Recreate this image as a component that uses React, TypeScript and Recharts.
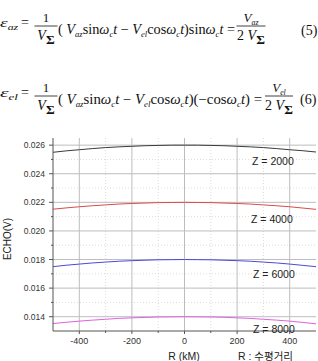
import React from "react";
import { LineChart, Line, XAxis, YAxis, ReferenceLine } from "recharts";

const SERIF = "'Liberation Serif', 'DejaVu Serif', serif";
const SANS = "'Liberation Sans', Arial, sans-serif";
const AXIS = "#555";
const MAJOR_GRID = "#bdbdbd";
const MINOR_GRID = "#dcdcdc";

// horizontal distance R (km)
const R_KM = [-500, -450, -400, -350, -300, -250, -200, -150, -100, -50, 0, 50, 100, 150, 200, 250, 300, 350, 400, 450, 500];

// echo voltage for each height Z
const Z2000 = [0.0255, 0.0256, 0.02568, 0.02576, 0.02583, 0.02588, 0.02592, 0.02596, 0.02598, 0.026, 0.026, 0.026, 0.02598, 0.02596, 0.02592, 0.02588, 0.02583, 0.02576, 0.02568, 0.02561, 0.02552];
const Z4000 = [0.02152, 0.02161, 0.02169, 0.02176, 0.02182, 0.02188, 0.02192, 0.02195, 0.02198, 0.02199, 0.022, 0.02199, 0.02198, 0.02195, 0.02192, 0.02188, 0.02182, 0.02176, 0.02169, 0.0216, 0.02151];
const Z6000 = [0.0175, 0.0176, 0.01768, 0.01776, 0.01782, 0.01788, 0.01792, 0.01795, 0.01798, 0.01799, 0.018, 0.01799, 0.01798, 0.01795, 0.01792, 0.01788, 0.01782, 0.01776, 0.01768, 0.01759, 0.0175];
const Z8000 = [0.01352, 0.01361, 0.01369, 0.01376, 0.01382, 0.01388, 0.01392, 0.01395, 0.01398, 0.01399, 0.014, 0.01399, 0.01398, 0.01396, 0.01392, 0.01388, 0.01382, 0.01376, 0.01369, 0.0136, 0.0135];

const MAJOR_X = [-400, -200, 0, 200, 400];
const MINOR_X = [-300, -100, 100, 300];
const X_TICKS = [-400, -300, -200, -100, 0, 100, 200, 300, 400];
const MAJOR_Y = [0.014, 0.016, 0.018, 0.02, 0.022, 0.024, 0.026];
const MINOR_Y = [0.015, 0.017, 0.019, 0.021, 0.023, 0.025];
const Y_TICKS = [0.014, 0.015, 0.016, 0.017, 0.018, 0.019, 0.02, 0.021, 0.022, 0.023, 0.024, 0.025, 0.026];

const SERIES = [
  { key: "z2000", label: "Z = 2000", color: "#3a3a3a" },
  { key: "z4000", label: "Z = 4000", color: "#dd4a4a" },
  { key: "z6000", label: "Z = 6000", color: "#4a4ad6" },
  { key: "z8000", label: "Z = 8000", color: "#e060e0" },
];

const data = R_KM.map((r, i) => ({
  r,
  z2000: Z2000[i],
  z4000: Z4000[i],
  z6000: Z6000[i],
  z8000: Z8000[i],
}));

function XTick(props: any) {
  const { x, y, payload } = props;
  const major = MAJOR_X.includes(payload.value);
  return (
    <g>
      <line x1={x} x2={x} y1={y - 6} y2={y - 6 + (major ? 3 : 2)} stroke={AXIS} />
      {major && (
        <text x={x} y={y + 7} textAnchor="middle" fontSize={9} fontFamily={SANS} fill="#333">
          {payload.value}
        </text>
      )}
    </g>
  );
}

function YTick(props: any) {
  const { x, y, payload } = props;
  const major = MAJOR_Y.includes(payload.value);
  return (
    <g>
      <line x1={x + 8} x2={x + 8 - (major ? 4 : 2)} y1={y} y2={y} stroke={AXIS} />
      {major && (
        <text x={x} y={y + 3} textAnchor="end" fontSize={8.5} fontFamily={SANS} fill="#333">
          {payload.value.toFixed(3)}
        </text>
      )}
    </g>
  );
}

// r = roman, i = italic, s = italic subscript, S = bold sigma subscript
type Part = [string, "r" | "i" | "s" | "S"];

function Run({ x, y, parts, len, size = 14, anchor }: { x: number; y: number; parts: Part[]; len?: number; size?: number; anchor?: "middle" }) {
  let low = 0;
  return (
    <text
      x={x}
      y={y}
      fontSize={size}
      fontFamily={SERIF}
      fill="#111"
      textAnchor={anchor}
      textLength={len}
      lengthAdjust={len ? "spacingAndGlyphs" : undefined}
      style={{ whiteSpace: "pre" }}
    >
      {parts.map(([t, k], i) => {
        const target = k === "s" ? 3 : k === "S" ? 4 : 0;
        const dy = target - low;
        low = target;
        return (
          <tspan
            key={i}
            dy={dy}
            fontStyle={k === "i" || k === "s" ? "italic" : undefined}
            fontSize={k === "s" ? size * 0.6 : k === "S" ? size * 0.95 : undefined}
            fontWeight={k === "S" ? "bold" : undefined}
          >
            {t}
          </tspan>
        );
      })}
    </text>
  );
}

const V_SIGMA: Part[] = [["V", "i"], ["Σ", "S"]];

function Fraction({ cx, y, w, num, den }: { cx: number; y: number; w: number; num: Part[]; den: Part[] }) {
  return (
    <g>
      <Run x={cx} y={y - 4} parts={num} anchor="middle" size={13} />
      <line x1={cx - w / 2} x2={cx + w / 2} y1={y} y2={y} stroke="#111" strokeWidth={0.8} />
      <Run x={cx} y={y + 14} parts={den} anchor="middle" size={14} />
    </g>
  );
}

const MAIN5: Part[] = [
  ["( ", "r"], ["V", "i"], ["az", "s"], ["sin", "r"], ["ω", "i"], ["c", "s"], ["t", "i"], [" − ", "r"],
  ["V", "i"], ["el", "s"], ["cos", "r"], ["ω", "i"], ["c", "s"], ["t", "i"], [")sin", "r"], ["ω", "i"], ["c", "s"], ["t", "i"], [" =", "r"],
];
const MAIN6: Part[] = [
  ["( ", "r"], ["V", "i"], ["az", "s"], ["sin", "r"], ["ω", "i"], ["c", "s"], ["t", "i"], [" − ", "r"],
  ["V", "i"], ["el", "s"], ["cos", "r"], ["ω", "i"], ["c", "s"], ["t", "i"], [")(−cos", "r"], ["ω", "i"], ["c", "s"], ["t", "i"], [") =", "r"],
];

function Equations() {
  return (
    <g>
      <Run x={0} y={27} len={18} size={13} parts={[["ε", "i"], ["az", "s"]]} />
      <Run x={21} y={27} parts={[["=", "r"]]} />
      <Fraction cx={46} y={26} w={23} num={[["1", "r"]]} den={V_SIGMA} />
      <Run x={58} y={34} len={177} parts={MAIN5} />
      <Fraction cx={251} y={26} w={29} num={[["V", "i"], ["az", "s"]]} den={[["2 ", "r"], ...V_SIGMA]} />
      <Run x={301} y={35} parts={[["(5)", "r"]]} />

      <Run x={0} y={97} len={18} size={13} parts={[["ε", "i"], ["el", "s"]]} />
      <Run x={21} y={97} parts={[["=", "r"]]} />
      <Fraction cx={46} y={96} w={23} num={[["1", "r"]]} den={V_SIGMA} />
      <Run x={58} y={104} len={204} parts={MAIN6} />
      <Fraction cx={279} y={96} w={28} num={[["V", "i"], ["el", "s"]]} den={[["2 ", "r"], ...V_SIGMA]} />
      <Run x={300} y={104} parts={[["(6)", "r"]]} />
    </g>
  );
}

const LABEL_POS = [
  { x: 252, y: 165 },
  { x: 251, y: 223 },
  { x: 253, y: 278 },
  { x: 253, y: 333 },
];

export default function App() {
  return (
    <div style={{ position: "absolute", left: 0, top: 0, width: 318, height: 361, background: "#fff" }}>
      <LineChart width={318} height={361} data={data} margin={{ top: 138, right: 2, bottom: 0, left: 0 }}>
        {MINOR_Y.map((v) => (
          <ReferenceLine key={"my" + v} y={v} stroke={MINOR_GRID} strokeDasharray="1 2" />
        ))}
        {MINOR_X.map((v) => (
          <ReferenceLine key={"mx" + v} x={v} stroke={MINOR_GRID} strokeDasharray="1 2" />
        ))}
        {MAJOR_Y.map((v) => (
          <ReferenceLine key={"y" + v} y={v} stroke={MAJOR_GRID} />
        ))}
        {MAJOR_X.map((v) => (
          <ReferenceLine key={"x" + v} x={v} stroke={MAJOR_GRID} />
        ))}
        <XAxis
          dataKey="r"
          type="number"
          domain={[-500, 500]}
          ticks={X_TICKS}
          interval={0}
          tickLine={false}
          tickSize={3}
          tickMargin={3}
          tick={(p: any) => <XTick {...p} />}
          axisLine={{ stroke: AXIS }}
          height={30}
        />
        <YAxis
          type="number"
          domain={[0.013, 0.0265]}
          ticks={Y_TICKS}
          interval={0}
          allowDataOverflow
          tickLine={false}
          tickSize={4}
          tickMargin={4}
          tick={(p: any) => <YTick {...p} />}
          axisLine={{ stroke: AXIS }}
          width={53}
        />
        {SERIES.map((s) => (
          <Line
            key={s.key}
            type="monotone"
            dataKey={s.key}
            stroke={s.color}
            strokeWidth={1}
            dot={false}
            isAnimationActive={false}
          />
        ))}
      </LineChart>
      <svg width={318} height={361} style={{ position: "absolute", left: 0, top: 0, pointerEvents: "none" }}>
        <Equations />
        {SERIES.map((s, i) => (
          <text key={s.key} x={LABEL_POS[i].x} y={LABEL_POS[i].y} fontSize={10.5} fontFamily={SANS} fill="#222">
            {s.label}
          </text>
        ))}
        <text x={11} y={239} transform="rotate(-90 11 239)" textAnchor="middle" fontSize={10} fontFamily={SANS} fill="#222">
          ECHO(V)
        </text>
        <text x={184} y={360} textAnchor="middle" fontSize={10.5} fontFamily={SANS} fill="#222">
          R (kM)
        </text>
        <text x={238} y={360} fontSize={10.5} fontFamily={`${SANS}, 'Noto Sans CJK KR'`} fill="#222">
          R : 수평거리
        </text>
      </svg>
    </div>
  );
}
